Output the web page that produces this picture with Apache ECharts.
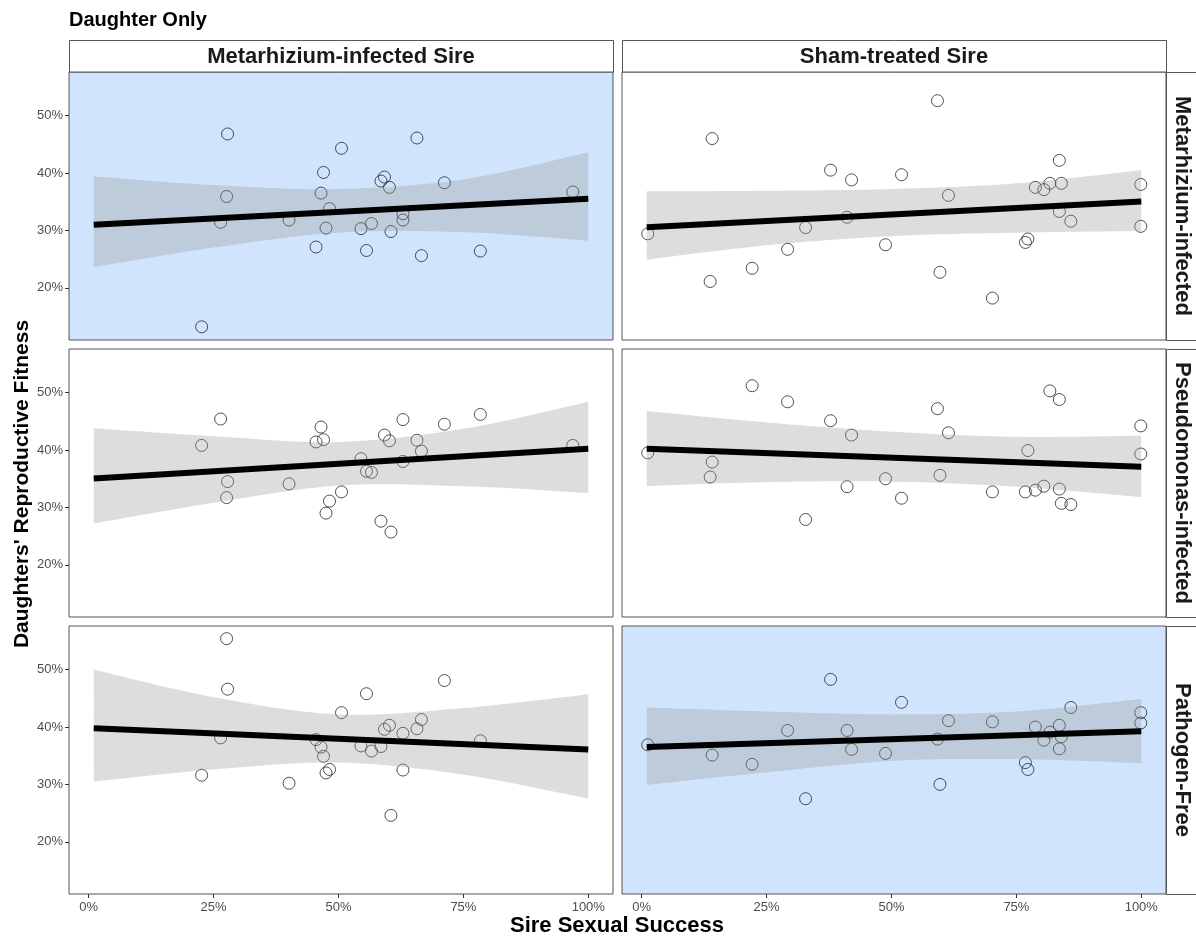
<!DOCTYPE html>
<html>
<head>
<meta charset="utf-8">
<script src="https://cdn.jsdelivr.net/npm/echarts@6/dist/echarts.min.js"></script>
<style>
  html, body { margin: 0; padding: 0; background: #ffffff; }
  #chart { width: 1196px; height: 937px; }
</style>
</head>
<body>
<div id="chart"></div>
<script>
// Facet labels
const colLabels = ['Metarhizium-infected Sire', 'Sham-treated Sire'];
const rowLabels = ['Metarhizium-infected', 'Pseudomonas-infected', 'Pathogen-Free'];

// Axis ticks (percent)
const xTicks = [0, 25, 50, 75, 100];
const yTicks = [20, 30, 40, 50];

// Observations: [sire sexual success %, daughters' reproductive fitness %]
const metSire_metDau = [
  [27.8, 46.8], [65.7, 46.1], [50.6, 44.3], [47.0, 40.1], [59.2, 39.3], [58.5, 38.6],
  [60.2, 37.5], [71.2, 38.3], [27.6, 35.9], [46.5, 36.5], [96.9, 36.7], [48.2, 33.8],
  [26.4, 31.4], [40.1, 31.8], [62.9, 32.9], [62.9, 31.8], [47.5, 30.4], [54.5, 30.3],
  [56.6, 31.2], [60.5, 29.8], [45.5, 27.1], [55.6, 26.5], [66.6, 25.6], [78.4, 26.4],
  [22.6, 13.2]
];
const shamSire_metDau = [
  [59.2, 52.6], [14.1, 46.0], [83.6, 42.2], [37.8, 40.5], [52.0, 39.7], [42.0, 38.8],
  [99.9, 38.0], [78.8, 37.5], [80.5, 37.1], [81.7, 38.2], [84.0, 38.2], [61.4, 36.1],
  [41.1, 32.3], [83.6, 33.3], [85.9, 31.6], [32.8, 30.5], [1.2, 29.4], [99.9, 30.7],
  [48.8, 27.5], [76.8, 27.9], [77.3, 28.5], [29.2, 26.7], [22.1, 23.4], [59.7, 22.7],
  [13.7, 21.1], [70.2, 18.2]
];
const metSire_pseDau = [
  [78.4, 46.2], [26.4, 45.4], [62.9, 45.3], [71.2, 44.5], [46.5, 44.0], [59.2, 42.6],
  [47.0, 41.8], [45.5, 41.4], [60.2, 41.6], [65.7, 41.7], [22.6, 40.8], [96.9, 40.8],
  [66.6, 39.8], [54.5, 38.5], [62.9, 38.0], [55.6, 36.3], [56.6, 36.1], [27.8, 34.5],
  [40.1, 34.1], [27.6, 31.7], [50.6, 32.7], [48.2, 31.1], [47.5, 29.0], [58.5, 27.6],
  [60.5, 25.7]
];
const shamSire_pseDau = [
  [22.1, 51.2], [81.7, 50.3], [83.6, 48.8], [29.2, 48.4], [59.2, 47.2], [37.8, 45.1],
  [99.9, 44.2], [61.4, 43.0], [42.0, 42.6], [77.3, 39.9], [1.2, 39.5], [99.9, 39.3],
  [14.1, 37.9], [13.7, 35.3], [59.7, 35.6], [48.8, 35.0], [41.1, 33.6], [80.5, 33.7],
  [78.8, 33.0], [83.6, 33.2], [76.8, 32.7], [70.2, 32.7], [52.0, 31.6], [84.0, 30.7],
  [85.9, 30.5], [32.8, 27.9]
];
const metSire_freeDau = [
  [27.6, 55.4], [27.8, 46.6], [71.2, 48.1], [55.6, 45.8], [50.6, 42.5], [66.6, 41.3],
  [60.2, 40.3], [59.2, 39.6], [65.7, 39.7], [62.9, 38.9], [26.4, 38.1], [45.5, 37.8],
  [78.4, 37.6], [46.5, 36.5], [54.5, 36.7], [58.5, 36.6], [56.6, 35.8], [47.0, 34.9],
  [48.2, 32.6], [47.5, 32.0], [62.9, 32.5], [22.6, 31.6], [40.1, 30.2], [60.5, 24.6]
];
const shamSire_freeDau = [
  [37.8, 48.3], [52.0, 44.3], [85.9, 43.4], [99.9, 42.5], [99.9, 40.7], [61.4, 41.1],
  [70.2, 40.9], [78.8, 40.0], [83.6, 40.3], [29.2, 39.4], [41.1, 39.4], [81.7, 39.1],
  [84.0, 38.3], [80.5, 37.7], [59.2, 37.9], [1.2, 36.9], [42.0, 36.1], [83.6, 36.2],
  [48.8, 35.4], [14.1, 35.1], [22.1, 33.5], [76.8, 33.8], [77.3, 32.6], [59.7, 30.0],
  [32.8, 27.5]
];

// Linear fits (value at the ends of the fitted range)
const fitX = [1, 100];
const fit_metSire_metDau = [31.0, 35.5];
const fit_shamSire_metDau = [30.55, 35.05];
const fit_metSire_pseDau = [35.05, 40.2];
const fit_shamSire_pseDau = [40.2, 37.1];
const fit_metSire_freeDau = [39.8, 36.1];
const fit_shamSire_freeDau = [36.5, 39.25];

// 95% confidence band edges at bandX
const bandX = [1, 25, 50, 75, 100];
const upper_metSire_metDau = [39.4, 37.9, 37.2, 38.9, 43.6];
const lower_metSire_metDau = [23.6, 27.0, 29.6, 29.7, 28.2];
const upper_shamSire_metDau = [36.8, 36.9, 37.2, 38.2, 40.5];
const lower_shamSire_metDau = [24.9, 27.4, 29.0, 29.6, 29.9];
const upper_metSire_pseDau = [43.8, 42.4, 41.4, 43.7, 48.4];
const lower_metSire_pseDau = [27.2, 30.8, 33.8, 33.7, 32.5];
const upper_shamSire_pseDau = [46.8, 44.8, 43.2, 42.3, 42.5];
const lower_shamSire_pseDau = [33.7, 34.4, 34.5, 33.6, 31.8];
const upper_metSire_freeDau = [50.0, 45.2, 42.2, 43.3, 45.7];
const lower_metSire_freeDau = [30.5, 32.6, 33.8, 31.7, 27.5];
const upper_shamSire_freeDau = [43.4, 42.7, 42.2, 42.7, 44.9];
const lower_shamSire_freeDau = [29.9, 32.1, 34.1, 34.4, 33.7];

// Facet assembly (row = daughter treatment, col = sire treatment)
const panels = [
  { row: 0, col: 0, pts: metSire_metDau,   fit: fit_metSire_metDau,   up: upper_metSire_metDau,   lo: lower_metSire_metDau,   hl: true },
  { row: 0, col: 1, pts: shamSire_metDau,  fit: fit_shamSire_metDau,  up: upper_shamSire_metDau,  lo: lower_shamSire_metDau,  hl: false },
  { row: 1, col: 0, pts: metSire_pseDau,   fit: fit_metSire_pseDau,   up: upper_metSire_pseDau,   lo: lower_metSire_pseDau,   hl: false },
  { row: 1, col: 1, pts: shamSire_pseDau,  fit: fit_shamSire_pseDau,  up: upper_shamSire_pseDau,  lo: lower_shamSire_pseDau,  hl: false },
  { row: 2, col: 0, pts: metSire_freeDau,  fit: fit_metSire_freeDau,  up: upper_metSire_freeDau,  lo: lower_metSire_freeDau,  hl: false },
  { row: 2, col: 1, pts: shamSire_freeDau, fit: fit_shamSire_freeDau, up: upper_shamSire_freeDau, lo: lower_shamSire_freeDau, hl: true }
];

// Layout
const colLeft = [69, 622];
const rowTop = [72, 349, 626];
const panelW = 544;
const panelH = 268;
const X_MIN = -3.95, X_MAX = 104.95;
const Y_MIN = 10.9, Y_MAX = 57.6;
const FONT = '"Liberation Sans", Arial, Helvetica, sans-serif';
const BORDER = '#555555';
const HIGHLIGHT = '#d0e5fd';

// Smooth curve through pixel points (Catmull-Rom, sampled)
function smoothCurve(pts) {
  const out = [];
  const steps = 16;
  for (let i = 0; i < pts.length - 1; i++) {
    const p0 = pts[i - 1] || pts[i];
    const p1 = pts[i];
    const p2 = pts[i + 1];
    const p3 = pts[i + 2] || pts[i + 1];
    for (let s = 0; s < steps; s++) {
      const t = s / steps, t2 = t * t, t3 = t2 * t;
      const f = (a, b, c, d) =>
        0.5 * ((2 * b) + (-a + c) * t + (2 * a - 5 * b + 4 * c - d) * t2 + (-a + 3 * b - 3 * c + d) * t3);
      out.push([f(p0[0], p1[0], p2[0], p3[0]), f(p0[1], p1[1], p2[1], p3[1])]);
    }
  }
  out.push(pts[pts.length - 1]);
  return out;
}

const grids = [], xAxes = [], yAxes = [], series = [];

panels.forEach((p, i) => {
  const bottomRow = p.row === 2;
  const leftCol = p.col === 0;
  grids.push({
    left: colLeft[p.col], top: rowTop[p.row], width: panelW, height: panelH,
    show: true, backgroundColor: p.hl ? HIGHLIGHT : '#ffffff',
    borderColor: BORDER, borderWidth: 1, containLabel: false
  });
  xAxes.push({
    type: 'value', gridIndex: i, min: X_MIN, max: X_MAX,
    axisLine: { show: false, onZero: false },
    splitLine: { show: false },
    axisTick: { show: bottomRow, length: 4, lineStyle: { color: '#333333' }, customValues: xTicks },
    axisLabel: {
      show: bottomRow, customValues: xTicks, margin: 7,
      color: '#4d4d4d', fontSize: 13, fontFamily: FONT,
      formatter: v => v + '%'
    }
  });
  yAxes.push({
    type: 'value', gridIndex: i, min: Y_MIN, max: Y_MAX,
    axisLine: { show: false, onZero: false },
    splitLine: { show: false },
    axisTick: { show: leftCol, length: 4, lineStyle: { color: '#333333' }, customValues: yTicks },
    axisLabel: {
      show: leftCol, customValues: yTicks, margin: 6,
      color: '#4d4d4d', fontSize: 13, fontFamily: FONT,
      formatter: v => v + '%'
    }
  });

  // raw observations
  series.push({
    type: 'scatter', xAxisIndex: i, yAxisIndex: i, data: p.pts,
    symbol: 'circle', symbolSize: 12, z: 2, silent: true,
    itemStyle: { color: 'rgba(255,255,255,0)', borderColor: '#262626', borderWidth: 1 }
  });
  // confidence band (drawn over the points, as a translucent ribbon)
  series.push({
    type: 'custom', xAxisIndex: i, yAxisIndex: i, z: 3, silent: true,
    data: [[bandX[0], p.lo[0]]],
    renderItem: (params, api) => {
      const up = bandX.map((x, k) => api.coord([x, p.up[k]]));
      const lo = bandX.map((x, k) => api.coord([x, p.lo[k]])).reverse();
      const poly = smoothCurve(up).concat(smoothCurve(lo));
      return {
        type: 'polygon',
        shape: { points: poly },
        style: { fill: 'rgba(153,153,153,0.33)', stroke: null }
      };
    }
  });
  // fitted line
  series.push({
    type: 'line', xAxisIndex: i, yAxisIndex: i,
    data: fitX.map((x, k) => [x, p.fit[k]]),
    symbol: 'none', z: 4, silent: true,
    lineStyle: { color: '#000000', width: 6, cap: 'butt' }
  });
});

// Strips and titles
const graphic = [];
colLabels.forEach((t, c) => {
  graphic.push({
    type: 'rect', shape: { x: colLeft[c] + 0.5, y: 40.5, width: panelW, height: 31.5 },
    style: { fill: '#ffffff', stroke: BORDER, lineWidth: 1 }, z: 10
  });
  graphic.push({
    type: 'text', x: colLeft[c] + panelW / 2, y: 57,
    style: { text: t, fill: '#1a1a1a', font: 'bold 22px ' + FONT, textAlign: 'center', textVerticalAlign: 'middle' }, z: 11
  });
});
rowLabels.forEach((t, r) => {
  graphic.push({
    type: 'rect', shape: { x: 1166.5, y: rowTop[r] + 0.5, width: 40, height: panelH },
    style: { fill: '#ffffff', stroke: BORDER, lineWidth: 1 }, z: 10
  });
  graphic.push({
    type: 'text', x: 1182, y: rowTop[r] + panelH / 2, rotation: -Math.PI / 2,
    style: { text: t, fill: '#1a1a1a', font: 'bold 22px ' + FONT, textAlign: 'center', textVerticalAlign: 'middle' }, z: 11
  });
});
graphic.push({
  type: 'text', x: 69, y: 20,
  style: { text: 'Daughter Only', fill: '#000000', font: 'bold 20px ' + FONT, textAlign: 'left', textVerticalAlign: 'middle' }
});
graphic.push({
  type: 'text', x: 617, y: 926,
  style: { text: 'Sire Sexual Success', fill: '#000000', font: 'bold 22px ' + FONT, textAlign: 'center', textVerticalAlign: 'middle' }
});
graphic.push({
  type: 'text', x: 22, y: 484, rotation: Math.PI / 2,
  style: { text: "Daughters' Reproductive Fitness", fill: '#000000', font: 'bold 21px ' + FONT, textAlign: 'center', textVerticalAlign: 'middle' }
});

const chart = echarts.init(document.getElementById('chart'), null, { renderer: 'canvas' });
chart.setOption({
  animation: false,
  backgroundColor: '#ffffff',
  grid: grids,
  xAxis: xAxes,
  yAxis: yAxes,
  series: series,
  graphic: graphic
});
</script>
</body>
</html>
